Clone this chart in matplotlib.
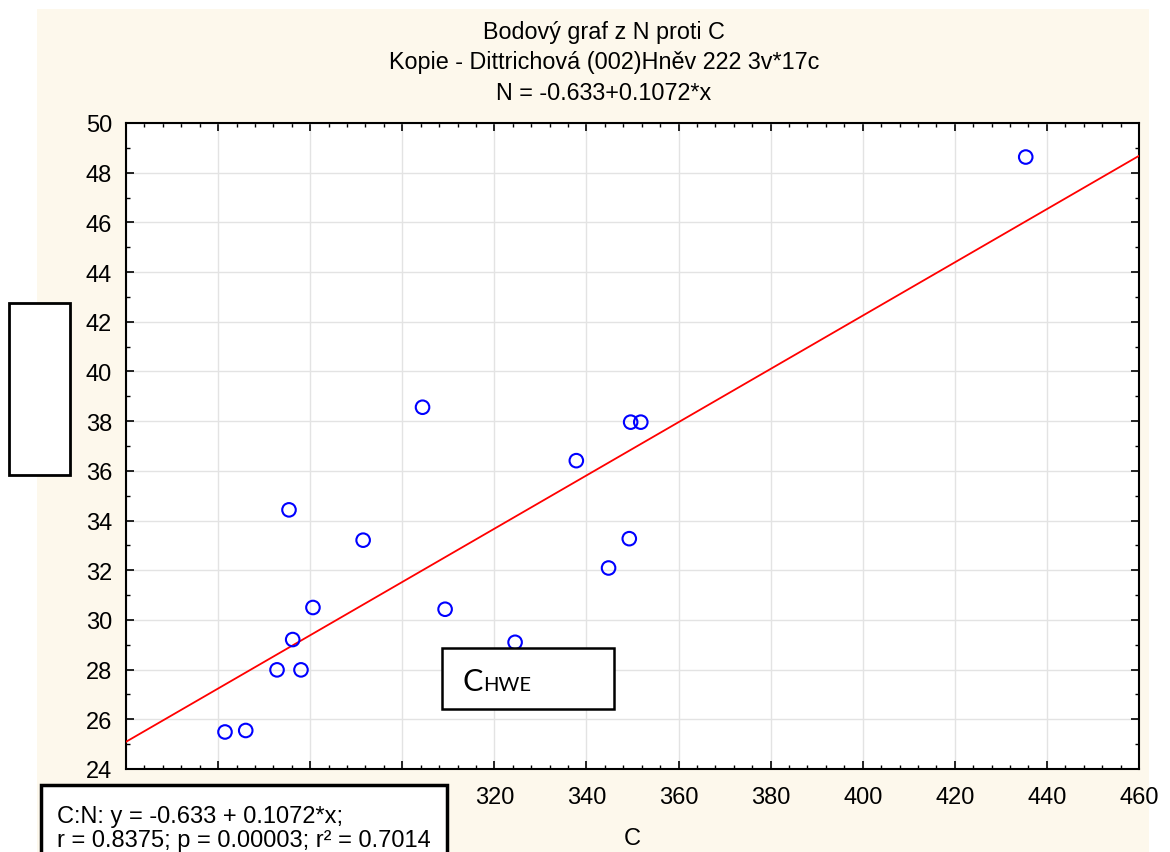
import matplotlib
matplotlib.use("Agg")
import matplotlib.pyplot as plt
from matplotlib.patches import Rectangle
from matplotlib.ticker import MultipleLocator


# =====================================================
# DATA
# =====================================================

c_values = [
    261.5, 266.0, 272.8, 278.0, 276.2, 280.6, 275.4, 291.5, 304.4,
    309.3, 324.5, 337.8, 344.8, 349.3, 349.6, 351.8, 435.4
]

n_values = [
    25.49, 25.55, 27.99, 27.99, 29.21, 30.50, 34.43, 33.21, 38.56,
    30.43, 29.10, 36.41, 32.09, 33.27, 37.96, 37.96, 48.63
]

intercept = -0.633
slope = 0.1072

x_major = [240, 260, 280, 300, 320, 340, 360, 380, 400, 420, 440, 460]
x_ticks = [320, 340, 360, 380, 400, 420, 440, 460]
y_ticks = [24, 26, 28, 30, 32, 34, 36, 38, 40, 42, 44, 46, 48, 50]

title_lines = [
    "Bodový graf z N proti C",
    "Kopie - Dittrichová (002)Hněv 222 3v*17c",
    "N = -0.633+0.1072*x",
]

stats_lines = [
    "C:N: y = -0.633 + 0.1072*x;",
    "r = 0.8375; p = 0.00003; r² = 0.7014",
]

x_min, x_max = 240, 460
y_min, y_max = 24, 50

CREAM = "#fdf8ec"
FONT = "Liberation Sans"

plt.rcParams["font.family"] = FONT


# =====================================================
# FIGURE + BACKGROUND
# =====================================================

W, H = 1170, 853
fig = plt.figure(figsize=(W / 100, H / 100), dpi=100, facecolor="white")

fig.patches.append(Rectangle(
    (37 / W, 0), (1149 - 37) / W, 1 - 10 / H,
    transform=fig.transFigure, facecolor=CREAM, edgecolor="none", zorder=-5
))

ax = fig.add_axes([126 / W, 1 - 770 / H, (1139 - 126) / W, (770 - 124) / H])
ax.set_facecolor("white")
ax.set_zorder(1)


# =====================================================
# PLOT
# =====================================================

ax.plot(
    [x_min, x_max],
    [intercept + slope * x_min, intercept + slope * x_max],
    color="#ff0000",
    linewidth=1.3,
    zorder=3
)

ax.scatter(
    c_values,
    n_values,
    s=95,
    facecolors="none",
    edgecolors="#0000ff",
    linewidths=1.5,
    zorder=4
)

ax.set_xlim(x_min, x_max)
ax.set_ylim(y_min, y_max)

ax.set_xticks(x_major)
ax.set_xticklabels([str(v) if v in x_ticks else "" for v in x_major])
ax.xaxis.set_minor_locator(MultipleLocator(4))

ax.set_yticks(y_ticks)
ax.set_yticklabels([str(v) for v in y_ticks])
ax.yaxis.set_minor_locator(MultipleLocator(1))

ax.grid(True, which="major", color="#e3e3e3", linewidth=1.0, zorder=0)
ax.set_axisbelow(True)

ax.tick_params(which="both", direction="in", top=True, right=True,
               labelsize=17)
ax.tick_params(axis="x", pad=12)
ax.tick_params(axis="y", pad=10)
ax.tick_params(which="major", length=6, width=1.2)
ax.tick_params(which="minor", length=3, width=1.0)

for spine in ax.spines.values():
    spine.set_linewidth(1.5)
    spine.set_color("black")

ax.set_xlabel("C", fontsize=17, labelpad=14)


# =====================================================
# TEXT + BOXES
# =====================================================

title_y = [32, 63, 93]
for line, yy in zip(title_lines, title_y):
    fig.text(604 / W, 1 - yy / H, line, ha="center", va="center",
             fontsize=16.8)

# blank y label box
fig.patches.append(Rectangle(
    (9 / W, 1 - 476 / H), 61 / W, 172 / H,
    transform=fig.transFigure, facecolor="white", edgecolor="black",
    linewidth=2, zorder=5
))

# stats box
fig.patches.append(Rectangle(
    (41 / W, -0.02), (447 - 41) / W, 1 - 786 / H + 0.02,
    transform=fig.transFigure, facecolor="white", edgecolor="black",
    linewidth=2.5, zorder=5
))
fig.text(57 / W, 1 - 817 / H, stats_lines[0], ha="left", va="center",
         fontsize=17, zorder=6)
fig.text(57 / W, 1 - 841 / H, stats_lines[1], ha="left", va="center",
         fontsize=17, zorder=6)

# C_HWE box
fig.patches.append(Rectangle(
    (442 / W, 1 - 710 / H), (614 - 442) / W, (710 - 649) / H,
    transform=fig.transFigure, facecolor="white", edgecolor="black",
    linewidth=1.8, zorder=5
))
c_txt = fig.text(462 / W, 1 - 691 / H, "C", ha="left", va="baseline",
                 fontsize=22, family="Lato", zorder=6)
fig.canvas.draw()
c_right = c_txt.get_window_extent().x1
fig.text(c_right / W + 1 / W, 1 - 691 / H, "HWE", ha="left", va="baseline",
         fontsize=14.5, family="Lato", zorder=6)

fig.savefig("out.png", dpi=100, facecolor="white")
